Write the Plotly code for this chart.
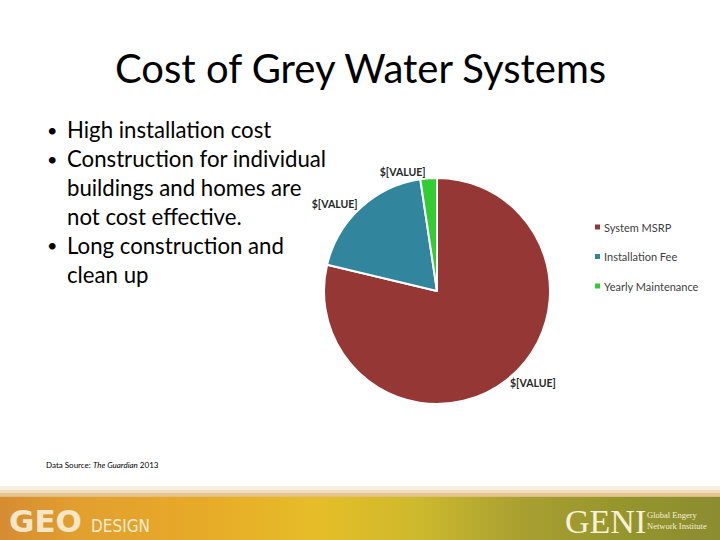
import plotly.graph_objects as go

categories = ["System MSRP", "Installation Fee", "Yearly Maintenance"]
values = [5000, 1200, 150]
colors = ["#953735", "#31859C", "#33CC33"]
label_text = "<b>$[VALUE]</b>"

title = "Cost of Grey Water Systems"
bullets = [
    ("•", "High installation cost"),
    ("•", "Construction for individual"),
    ("", "buildings and homes are"),
    ("", "not cost effective."),
    ("•", "Long construction and"),
    ("", "clean up"),
]
source = "Data Source: <i>The Guardian</i> 2013"

W, H = 720, 540

def px(x):
    return x / W

def py(y):
    return 1 - y / H

fig = go.Figure()

cx, cy, r = 437, 291, 113
fig.add_trace(go.Pie(
    labels=categories,
    values=values,
    marker=dict(colors=colors, line=dict(color="white", width=2)),
    sort=False,
    direction="clockwise",
    rotation=0,
    texttemplate=label_text,
    textposition="outside",
    textfont=dict(family="Lato", size=10.5, color="#262626"),
    outsidetextfont=dict(family="Lato", size=10.5, color="#262626"),
    showlegend=False,
    hoverinfo="label+value",
    domain=dict(x=[px(cx - r), px(cx + r)], y=[py(cy + r), py(cy - r)]),
))

annotations = []
shapes = []

# title
annotations.append(dict(
    text=title, x=px(360), y=py(68), xref="paper", yref="paper",
    xanchor="center", yanchor="middle", showarrow=False,
    font=dict(family="Lato", size=40, color="#000000"),
))

# bullets
for i, (b, t) in enumerate(bullets):
    yy = 130 + i * 28.8
    if b:
        annotations.append(dict(
            text=b, x=px(45), y=py(yy), xref="paper", yref="paper",
            xanchor="left", yanchor="middle", showarrow=False,
            font=dict(family="Lato", size=18, color="#000000"),
        ))
    annotations.append(dict(
        text=t, x=px(65), y=py(yy), xref="paper", yref="paper",
        xanchor="left", yanchor="middle", showarrow=False,
        font=dict(family="Lato", size=22.2, color="#000000"),
    ))

# custom legend
for i, (c, col) in enumerate(zip(categories, colors)):
    yy = 227 + i * 29.5
    shapes.append(dict(type="rect", xref="paper", yref="paper",
                       x0=px(595), x1=px(600), y0=py(yy + 2.5), y1=py(yy - 2.5),
                       fillcolor=col, line=dict(width=0)))
    annotations.append(dict(
        text=c, x=px(602), y=py(yy), xref="paper", yref="paper",
        xanchor="left", yanchor="middle", showarrow=False,
        font=dict(family="Lato", size=11, color="#404040"),
    ))

# data source
annotations.append(dict(
    text=source, x=px(44), y=py(465), xref="paper", yref="paper",
    xanchor="left", yanchor="middle", showarrow=False,
    font=dict(family="Lato", size=8, color="#000000"),
))

# bottom banner gradient
stops = [
    (0, (214, 140, 50)), (80, (226, 160, 48)), (200, (232, 170, 40)),
    (320, (230, 190, 40)), (420, (205, 185, 45)), (520, (170, 160, 50)),
    (620, (150, 150, 45)), (720, (140, 140, 50)),
]
def interp(x):
    for (x0, c0), (x1, c1) in zip(stops[:-1], stops[1:]):
        if x0 <= x <= x1:
            f = (x - x0) / (x1 - x0)
            return tuple(int(c0[k] + f * (c1[k] - c0[k])) for k in range(3))
    return stops[-1][1]
step = 8
for x in range(0, W, step):
    c = interp(x + step / 2)
    shapes.append(dict(type="rect", xref="paper", yref="paper",
                       x0=px(x), x1=px(x + step + 0.5), y0=py(540), y1=py(496),
                       fillcolor="rgb(%d,%d,%d)" % c, line=dict(width=0), layer="below"))
# top fade
fade = [(486, 490, "rgba(240,228,205,0.6)"), (490, 493, "rgba(235,212,172,0.8)"), (493, 497, "rgba(225,192,132,0.9)")]
for y0, y1, col in fade:
    shapes.append(dict(type="rect", xref="paper", yref="paper",
                       x0=0, x1=1, y0=py(y1), y1=py(y0),
                       fillcolor=col, line=dict(width=0), layer="below"))

annotations.append(dict(
    text="<b>GEO</b>", x=px(7), y=py(521), xref="paper", yref="paper",
    xanchor="left", yanchor="middle", showarrow=False,
    font=dict(family="DejaVu Sans", size=31, color="#F5E6C8"),
))
annotations.append(dict(
    text="DESIGN", x=px(89), y=py(526), xref="paper", yref="paper",
    xanchor="left", yanchor="middle", showarrow=False,
    font=dict(family="DejaVu Sans Condensed", size=17, color="#F5EBD0"),
))
annotations.append(dict(
    text="GENI", x=px(563), y=py(521), xref="paper", yref="paper",
    xanchor="left", yanchor="middle", showarrow=False,
    font=dict(family="Liberation Serif", size=34, color="#F8F0D8"),
))
annotations.append(dict(
    text="Global Engery<br>Network Institute", x=px(645), y=py(520), xref="paper", yref="paper",
    xanchor="left", yanchor="middle", showarrow=False, align="left",
    font=dict(family="Liberation Serif", size=8.5, color="#F8F0D8"),
))

fig.update_layout(
    width=W, height=H,
    margin=dict(l=0, r=0, t=0, b=0),
    paper_bgcolor="white",
    plot_bgcolor="white",
    annotations=annotations,
    shapes=shapes,
)

fig.write_html("out.html", config={"displayModeBar": False},
               post_script="document.body.style.margin='0';document.body.style.overflow='hidden';")
